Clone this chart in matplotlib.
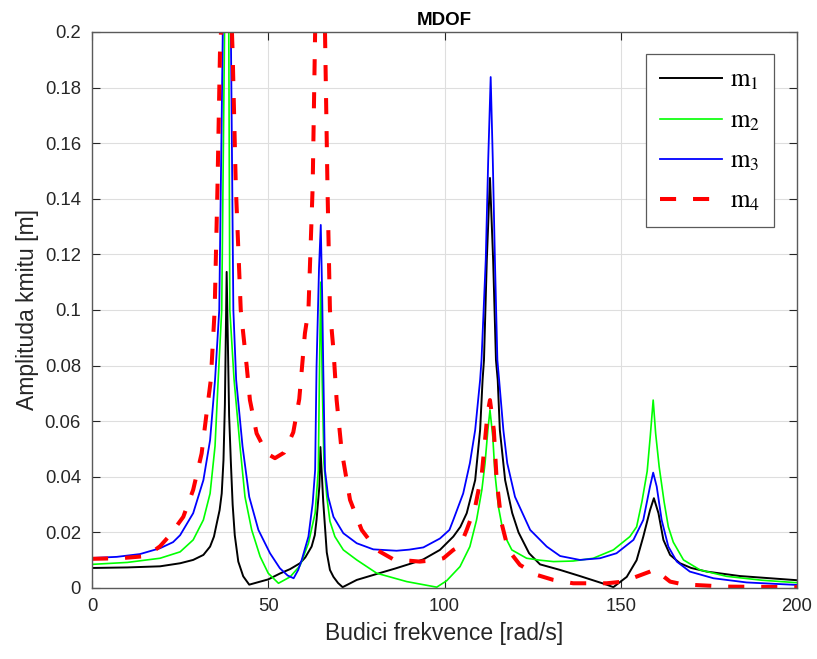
import numpy as np
import matplotlib
matplotlib.use('Agg')
import matplotlib.pyplot as plt

plt.rcParams['font.family'] = ['Liberation Sans', 'DejaVu Sans']
plt.rcParams['mathtext.fontset'] = 'stix'

# m1 - black
f1 = [0, 10, 19.3, 25, 28.7, 31.6, 33.5, 34.6, 35.4, 36.2, 36.8, 37.3, 37.7, 38.2, 38.9,
      39.4, 39.9, 40.5, 41.5, 42.9, 44.6, 50, 53.3, 56.2, 59, 60.5, 62.3, 63.2, 63.7,
      64.5, 64.8, 65.6, 66.6, 67.5, 68.5, 69.8, 71.1, 75.1, 81.7, 86, 91, 94, 98.7,
      102.5, 104.5, 106.3, 108.7, 110.1, 110.8, 111.2, 112, 112.9, 113.8, 114.6, 115.1,
      115.7, 117.2, 119.2, 121, 124, 127.1, 132.8, 138.4, 146, 147.9, 151.7, 154.5,
      156.4, 158.3, 159.4, 160.7, 162.1, 164, 166.8, 170, 174.4, 183.8, 200]
a1 = [0.0072, 0.0074, 0.0078, 0.0089, 0.0101, 0.0119, 0.0149, 0.0185, 0.0233, 0.028,
      0.034, 0.046, 0.066, 0.1137, 0.062, 0.045, 0.030, 0.019, 0.0095, 0.0042, 0.0012,
      0.0031, 0.0052, 0.0068, 0.0089, 0.011, 0.0149, 0.019, 0.0245, 0.0365, 0.0507,
      0.031, 0.0128, 0.0065, 0.004, 0.0018, 0.0003, 0.0029, 0.0054, 0.007, 0.009, 0.0103,
      0.0137, 0.0185, 0.022, 0.0269, 0.0388, 0.0568, 0.0748, 0.082, 0.118, 0.1475, 0.118,
      0.082, 0.0748, 0.0568, 0.0388, 0.027, 0.020, 0.0125, 0.0085, 0.0065, 0.0043,
      0.0012, 0.0003, 0.004, 0.010, 0.0185, 0.028, 0.0323, 0.0269, 0.0173, 0.0119,
      0.0089, 0.0072, 0.0059, 0.0043, 0.0028]

# m2 - green
f2 = [0, 10, 19.3, 25, 28.7, 31.6, 33.5, 34.9, 35.8, 36.8, 37.6, 38.2, 38.8, 39.1, 40.3,
      42, 43.4, 45.3, 47.7, 50, 52.9, 56.2, 59, 61.4, 63.3, 64.2, 64.5, 64.9, 65.3,
      65.8, 66.6, 67.5, 68.9, 71.3, 75.1, 80.8, 89.3, 97.8, 100.6, 104.4, 107.2, 109.1,
      110.6, 111.5, 112.3, 112.9, 113.7, 114.3, 115.3, 116.7, 119.1, 123.3, 127.1,
      130.9, 136.5, 142.2, 147.9, 152.6, 154.5, 156, 157.5, 158.4, 159.2, 159.9, 160.9,
      162.3, 163.5, 164.9, 167.8, 172.5, 180, 190, 200]
a2 = [0.0085, 0.0092, 0.0107, 0.013, 0.0173, 0.0245, 0.034, 0.051, 0.075, 0.1, 0.2,
      0.3, 0.2, 0.1, 0.075, 0.0508, 0.0328, 0.0209, 0.0113, 0.0053, 0.0017, 0.004,
      0.008, 0.0161, 0.0269, 0.0424, 0.075, 0.11, 0.075, 0.045, 0.033, 0.024, 0.0185,
      0.0137, 0.0101, 0.0053, 0.0023, 0.0003, 0.0026, 0.0077, 0.0149, 0.0245, 0.0353,
      0.0449, 0.0568, 0.064, 0.0544, 0.0413, 0.0292, 0.0197, 0.0137, 0.0107, 0.0100,
      0.0095, 0.0097, 0.0107, 0.0137, 0.0185, 0.022, 0.031, 0.042, 0.055, 0.0676,
      0.0556, 0.0436, 0.031, 0.022, 0.0165, 0.0101, 0.0065, 0.0042, 0.0028, 0.0019]

# m3 - blue
f3 = [0, 7, 13.6, 19.3, 23, 25, 28.7, 31.6, 33.5, 34.9, 36.1, 37.1, 38.2, 39.4, 40.1,
      40.9, 42.7, 44.6, 47.2, 50.5, 53.3, 55.5, 57.2, 58.5, 59.5, 61.4, 62.6, 63.3,
      63.7, 64.4, 64.9, 65.3, 65.6, 66.1, 67, 68.5, 71.3, 75.1, 79.8, 86.4, 90, 94,
      98.7, 101.4, 102.5, 105.3, 107.2, 108.7, 110.1, 110.5, 111.7, 112.4, 113.1,
      113.7, 114.3, 115, 115.5, 116.7, 117.8, 120, 124.3, 129, 132.8, 138.4, 144.1,
      148.8, 153.6, 156.4, 158.3, 159.2, 160.2, 161.6, 163.5, 165.9, 169.6, 176.3,
      185.7, 200]
a3 = [0.0108, 0.0112, 0.0122, 0.0143, 0.0165, 0.019, 0.0269, 0.0388, 0.0532, 0.0748,
      0.1, 0.2, 0.35, 0.2, 0.1, 0.0748, 0.051, 0.0328, 0.0209, 0.0125, 0.0071, 0.0045,
      0.0035, 0.0065, 0.0101, 0.0185, 0.0305, 0.0424, 0.0796, 0.115, 0.1306, 0.105,
      0.0796, 0.0424, 0.0328, 0.0256, 0.0197, 0.0161, 0.0139, 0.0134, 0.0138, 0.0146,
      0.0178, 0.0209, 0.0245, 0.034, 0.0449, 0.0568, 0.0748, 0.082, 0.118, 0.154,
      0.1838, 0.154, 0.118, 0.082, 0.0748, 0.0568, 0.0449, 0.0328, 0.0209, 0.0149,
      0.0115, 0.0101, 0.0107, 0.0125, 0.0173, 0.0245, 0.0365, 0.0415, 0.0365, 0.0245,
      0.0149, 0.0095, 0.0059, 0.0035, 0.002, 0.0011]

# m4 - red dashed
f4 = [0, 8, 15.5, 19.3, 22.1, 25.9, 28.7, 31.1, 32.5, 33.7, 34.8, 35.6, 36.3, 36.6, 38,
      39.7, 39.9, 40.8, 42.2, 43.9, 44.8, 46.7, 49.6, 51.9, 54.5, 57.1, 58.8, 60.4,
      61.4, 62.6, 63.2, 63.3, 64.7, 66.1, 66.8, 67.5, 68.5, 69.4, 70.8, 73.2, 76.5,
      80.8, 85.5, 93, 97.8, 99.7, 102.5, 104.4, 106.3, 108.7, 110.6, 111.5, 112.2,
      112.9, 114, 114.8, 116.2, 118.1, 121.4, 126.2, 130.9, 136.5, 146, 150.7, 154.5,
      158.3, 159.7, 161.6, 164, 167.7, 180, 200]
a4 = [0.0105, 0.0107, 0.0115, 0.015, 0.019, 0.0256, 0.0353, 0.0484, 0.0628, 0.0748,
      0.1, 0.1444, 0.1923, 0.2, 0.4, 0.2, 0.1923, 0.1444, 0.1, 0.0796, 0.0676, 0.0556,
      0.0484, 0.0467, 0.0487, 0.056, 0.068, 0.0916, 0.1, 0.1444, 0.1923, 0.2, 0.4,
      0.2, 0.1444, 0.1, 0.0856, 0.0676, 0.0496, 0.0317, 0.0209, 0.0137, 0.0103,
      0.0095, 0.0101, 0.0107, 0.0137, 0.015, 0.0209, 0.0292, 0.0413, 0.0532, 0.0628,
      0.0676, 0.0568, 0.0388, 0.0233, 0.0137, 0.0083, 0.0047, 0.0029, 0.0017, 0.0017,
      0.0023, 0.0041, 0.0059, 0.0067, 0.0047, 0.0023, 0.0013, 0.0005, 0.0003]

xticks = [0, 50, 100, 150, 200]
yticks = [0, 0.02, 0.04, 0.06, 0.08, 0.1, 0.12, 0.14, 0.16, 0.18, 0.2]
ylabels = ['0', '0.02', '0.04', '0.06', '0.08', '0.1', '0.12', '0.14', '0.16', '0.18', '0.2']

fig = plt.figure(figsize=(8.17, 6.59), dpi=100)
ax = fig.add_axes([92/817, 71/659, 705/817, 556/659])

ax.plot(f1, a1, color='k', lw=1.4, label=r'$\mathrm{m}_1$')
ax.plot(f2, a2, color=(0, 1, 0), lw=1.2, label=r'$\mathrm{m}_2$')
ax.plot(f3, a3, color=(0, 0, 1), lw=1.3, label=r'$\mathrm{m}_3$')
l4, = ax.plot(f4, a4, color=(1, 0, 0), lw=2.9, label=r'$\mathrm{m}_4$')
l4.set_dashes([4.0, 4.2])

ax.set_xlim(0, 200)
ax.set_ylim(0, 0.2)
ax.set_xticks(xticks)
ax.set_yticks(yticks)
ax.set_yticklabels(ylabels)
ax.grid(True, color='#dedede', lw=0.8)
ax.set_axisbelow(True)
ax.tick_params(direction='in', length=5.5, width=0.8, colors='#262626',
               labelsize=13.3, top=True, right=True)
ax.tick_params(axis='y', pad=8)
ax.tick_params(axis='x', pad=7)
for s in ax.spines.values():
    s.set_color('#5a5a5a')
    s.set_linewidth(1.0)

ax.set_xlabel('Budici frekvence [rad/s]', fontsize=16.5, color='#262626', labelpad=5)
ax.set_ylabel('Amplituda kmitu [m]', fontsize=16.5, color='#262626', labelpad=4)
ax.set_title('MDOF', fontsize=13.5, fontweight='bold', color='k', pad=5)

leg = ax.legend(loc='upper right', bbox_to_anchor=(0.967, 0.960), borderaxespad=0,
                fontsize=18, handlelength=2.5, handletextpad=0.3, labelspacing=0.64,
                borderpad=0.55, fancybox=False, framealpha=1, edgecolor='#5a5a5a')
leg.get_frame().set_linewidth(0.9)

fig.savefig('out.png', dpi=100)
